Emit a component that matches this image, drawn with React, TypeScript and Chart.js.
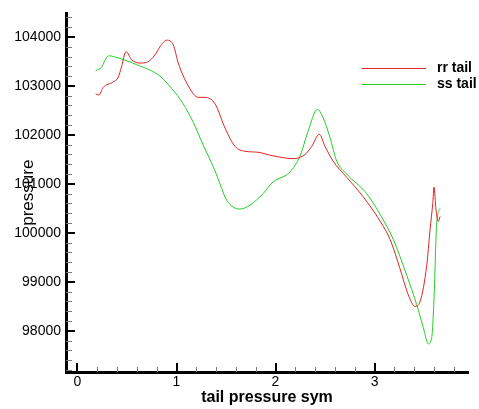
import { useEffect, useRef } from "react";
import { Chart, registerables } from "chart.js";

Chart.register(...registerables);

// ---- data ----
const seriesLabels = ["rr tail", "ss tail"];

const rrX = [0.184, 0.217, 0.258, 0.359, 0.409, 0.446, 0.49, 0.547, 0.631, 0.699, 0.783, 0.833, 0.901, 0.968, 1.018, 1.119, 1.22, 1.288, 1.389, 1.49, 1.591, 1.692, 1.823, 1.944, 2.126, 2.177, 2.298, 2.366, 2.442, 2.5, 2.581, 2.719, 2.884, 3.056, 3.157, 3.258, 3.341, 3.409, 3.46, 3.527, 3.561, 3.588, 3.601, 3.621, 3.644, 3.662];
const rrY = [102834, 102814, 102966, 103080, 103166, 103400, 103700, 103534, 103466, 103480, 103634, 103800, 103934, 103834, 103466, 103000, 102766, 102766, 102634, 102140, 101766, 101666, 101646, 101586, 101520, 101514, 101600, 101766, 102014, 101766, 101466, 101134, 100740, 100240, 99866, 99266, 98734, 98500, 98600, 99334, 100066, 100600, 100934, 100466, 100234, 100334];

const ssX = [0.184, 0.244, 0.295, 0.328, 0.362, 0.598, 0.833, 0.95, 1.066, 1.167, 1.268, 1.389, 1.439, 1.507, 1.641, 1.742, 1.874, 1.975, 2.096, 2.146, 2.247, 2.328, 2.422, 2.477, 2.551, 2.618, 2.719, 2.921, 3.106, 3.19, 3.325, 3.426, 3.493, 3.544, 3.578, 3.601, 3.628, 3.662];
const ssY = [103314, 103386, 103586, 103614, 103600, 103434, 103200, 102950, 102640, 102266, 101800, 101266, 101000, 100666, 100486, 100566, 100800, 101040, 101166, 101240, 101566, 102066, 102520, 102366, 101940, 101466, 101200, 100800, 100200, 99866, 99134, 98534, 98066, 97734, 97866, 98666, 100200, 100500];

const xTickValues = [0, 1, 2, 3];
const yTickValues = [98000, 99000, 100000, 101000, 102000, 103000, 104000];
const xMinorStep = 0.2;
const yMinorStep = 200;
const xTitle = "tail pressure sym";
const yTitle = "pressure";

const FONT = "'Liberation Sans', Arial, Helvetica, sans-serif";
const RED = "#e02424";
const GREEN = "#26cc26";

const ticksPlugin = {
  id: "innerTicks",
  afterDraw(chart: any) {
    const { ctx, chartArea, scales } = chart;
    const xs = scales.x;
    const ys = scales.y;
    ctx.save();
    const xk0 = Math.ceil(xs.min / xMinorStep - 1e-9);
    const xk1 = Math.floor(xs.max / xMinorStep + 1e-9);
    for (let k = xk0; k <= xk1; k++) {
      const v = k * xMinorStep;
      const major = xTickValues.some((t) => Math.abs(t - v) < 1e-6);
      const px = xs.getPixelForValue(v);
      ctx.beginPath();
      ctx.lineWidth = major ? 2 : 1;
      ctx.strokeStyle = major ? "#000" : "#777";
      const x = major ? Math.round(px) : Math.round(px) + 0.5;
      ctx.moveTo(x, chartArea.bottom);
      ctx.lineTo(x, chartArea.bottom - (major ? 9 : 5));
      ctx.stroke();
    }
    const yk0 = Math.ceil(ys.min / yMinorStep - 1e-9);
    const yk1 = Math.floor(ys.max / yMinorStep + 1e-9);
    for (let k = yk0; k <= yk1; k++) {
      const v = k * yMinorStep;
      const major = yTickValues.some((t) => Math.abs(t - v) < 1e-6);
      const py = ys.getPixelForValue(v);
      ctx.beginPath();
      ctx.lineWidth = major ? 2 : 1;
      ctx.strokeStyle = major ? "#000" : "#777";
      const y = major ? Math.round(py) : Math.round(py) + 0.5;
      ctx.moveTo(chartArea.left, y);
      ctx.lineTo(chartArea.left + (major ? 9 : 6), y);
      ctx.stroke();
    }
    ctx.restore();
  },
};

const legendPlugin = {
  id: "boxLegend",
  afterDraw(chart: any) {
    const { ctx } = chart;
    ctx.save();
    ctx.font = `bold 14px ${FONT}`;
    ctx.textBaseline = "middle";
    ctx.textAlign = "left";
    chart.data.datasets.forEach((ds: any, i: number) => {
      const y = 68.5 + i * 16;
      ctx.beginPath();
      ctx.strokeStyle = ds.borderColor;
      ctx.lineWidth = 1;
      ctx.moveTo(362, y);
      ctx.lineTo(426, y);
      ctx.stroke();
      ctx.fillStyle = "#000";
      ctx.fillText(ds.label, 437, y);
    });
    ctx.restore();
  },
};

export default function App() {
  const ref = useRef<HTMLCanvasElement>(null);
  useEffect(() => {
    const chart = new Chart(ref.current!, {
      type: "line",
      data: {
        datasets: [
          {
            label: seriesLabels[0],
            data: rrX.map((x, i) => ({ x, y: rrY[i] })),
            borderColor: RED,
            borderWidth: 1,
            pointRadius: 0,
            cubicInterpolationMode: "monotone",
            fill: false,
          },
          {
            label: seriesLabels[1],
            data: ssX.map((x, i) => ({ x, y: ssY[i] })),
            borderColor: GREEN,
            borderWidth: 1,
            pointRadius: 0,
            cubicInterpolationMode: "monotone",
            fill: false,
          },
        ],
      },
      options: {
        animation: false,
        responsive: false,
        devicePixelRatio: 1,
        layout: { padding: { top: 6, right: 11, left: 0, bottom: 0 } },
        plugins: { legend: { display: false }, tooltip: { enabled: false } },
        scales: {
          x: {
            type: "linear",
            min: -0.116,
            max: 3.944,
            afterBuildTicks: (s: any) => {
              s.ticks = xTickValues.map((v) => ({ value: v }));
            },
            afterFit: (s: any) => {
              s.height = 37;
            },
            grid: { display: false, drawTicks: false },
            border: { display: true, color: "#000", width: 3 },
            ticks: {
              autoSkip: false,
              maxRotation: 0,
              padding: 2,
              color: "#000",
              font: { family: FONT, size: 14 },
              callback: (v: any) => String(v),
            },
            title: {
              display: true,
              text: xTitle,
              color: "#000",
              font: { family: FONT, size: 16, weight: "bold" },
              padding: { top: 0, bottom: 2 },
            },
          },
          y: {
            type: "linear",
            min: 97160,
            max: 104480,
            afterBuildTicks: (s: any) => {
              s.ticks = yTickValues.map((v) => ({ value: v }));
            },
            afterFit: (s: any) => {
              s.width = 66;
            },
            grid: { display: false, drawTicks: false },
            border: { display: true, color: "#000", width: 3 },
            ticks: {
              autoSkip: false,
              padding: 5,
              color: "#000",
              font: { family: FONT, size: 14 },
              callback: (v: any) => String(v),
            },
            title: {
              display: true,
              text: yTitle,
              color: "#000",
              font: { family: FONT, size: 17 },
              padding: { top: 18, bottom: 0 },
            },
          },
        },
      },
      plugins: [ticksPlugin, legendPlugin],
    } as any);
    return () => chart.destroy();
  }, []);
  return (
    <div style={{ position: "absolute", left: 0, top: 0, width: 479, height: 409, background: "#fff" }}>
      <canvas ref={ref} width={479} height={409} style={{ display: "block" }} />
    </div>
  );
}
